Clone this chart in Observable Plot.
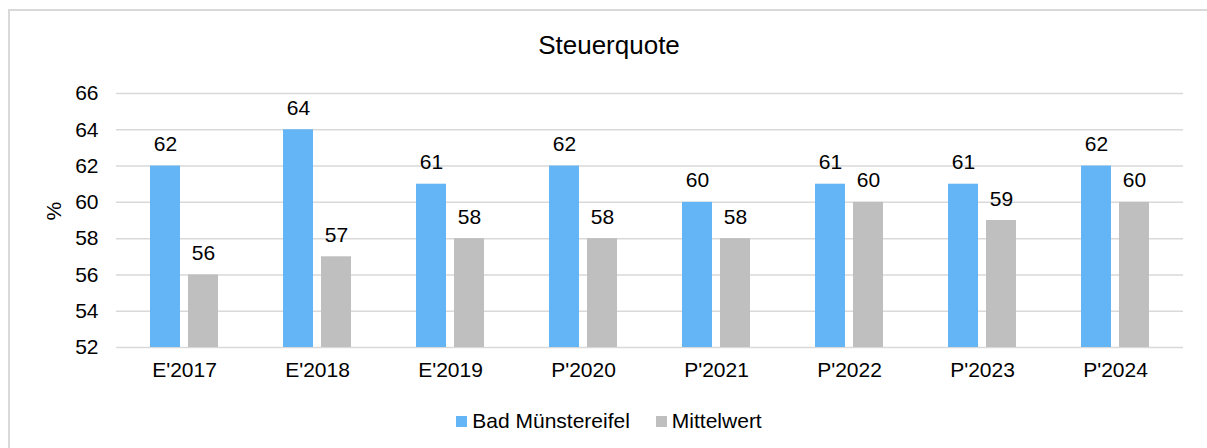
<!DOCTYPE html>
<html><head><meta charset="utf-8">
<script src="https://cdn.jsdelivr.net/npm/d3@7"></script>
<script src="https://cdn.jsdelivr.net/npm/@observablehq/plot@0.6"></script>
<style>
html,body{margin:0;padding:0;background:#fff;overflow:hidden;width:1207px;height:448px;}
body{font-family:"Liberation Sans",Arial,sans-serif;color:#000;position:relative;}
#frame{position:absolute;left:8px;top:9px;width:1220px;height:470px;border:2px solid #d9d9d9;box-sizing:border-box;}
#title{position:absolute;left:8px;width:1202px;top:32px;text-align:center;font-size:26px;line-height:26px;}
#chart{position:absolute;left:0;top:0;}
#legend{position:absolute;left:8px;width:1202px;top:411px;display:flex;justify-content:center;font-size:21px;line-height:20px;}
.item{display:flex;align-items:center;margin:0 13px;}
.sw{width:11px;height:11px;margin-right:5px;}
</style>
</head><body>
<div id="frame"></div>
<div id="title">Steuerquote</div>
<div id="chart"></div>
<div id="legend"></div>
<script>
const categories = ["E'2017","E'2018","E'2019","P'2020","P'2021","P'2022","P'2023","P'2024"];
const badMuenstereifel = [62,64,61,62,60,61,61,62];
const mittelwert = [56,57,58,58,58,60,59,60];
const seriesNames = ["Bad Münstereifel","Mittelwert"];
const seriesColors = ["#64B5F6","#BFBFBF"];
const yTicks = [52,54,56,58,60,62,64,66];
const baseline = 52;

const rowsA = categories.map((c,i)=>({cat:c, value:badMuenstereifel[i]}));
const rowsB = categories.map((c,i)=>({cat:c, value:mittelwert[i]}));

const font = '"Liberation Sans", Arial, sans-serif';
const chart = Plot.plot({
  width:1207, height:400,
  marginTop:93, marginBottom:53, marginLeft:116, marginRight:24,
  style:{fontFamily:font, fontSize:"21px", color:"#000", background:"transparent", overflow:"visible"},
  x:{domain:categories, paddingInner:0.49, paddingOuter:0.245, label:null},
  y:{domain:[baseline,66], label:null},
  marks:[
    Plot.gridY(yTicks, {stroke:"#d9d9d9", strokeOpacity:1, strokeWidth:1.5}),
    Plot.barY(rowsA, {x:"cat", y1:baseline, y2:"value", fill:seriesColors[0], insetRight:38}),
    Plot.barY(rowsB, {x:"cat", y1:baseline, y2:"value", fill:seriesColors[1], insetLeft:38}),
    Plot.text(rowsA, {x:"cat", y:"value", text:d=>String(d.value), dx:-19, dy:-15, lineAnchor:"bottom", fontSize:21, fill:"#000"}),
    Plot.text(rowsB, {x:"cat", y:"value", text:d=>String(d.value), dx:19, dy:-15, lineAnchor:"bottom", fontSize:21, fill:"#000"}),
    Plot.axisX({tickSize:0, tickPadding:15, fontSize:21, label:null}),
    Plot.axisY({ticks:yTicks, tickSize:0, tickPadding:18, fontSize:21, label:null}),
    Plot.text(["%"], {frameAnchor:"left", dx:-62, rotate:-90, text:d=>d, fontSize:21, fill:"#000"})
  ]
});
document.getElementById("chart").appendChild(chart);

const legend = document.getElementById("legend");
seriesNames.forEach((n,i)=>{
  const it = document.createElement("div"); it.className="item";
  const sw = document.createElement("div"); sw.className="sw"; sw.style.background=seriesColors[i];
  const tx = document.createElement("span"); tx.textContent=n;
  it.appendChild(sw); it.appendChild(tx); legend.appendChild(it);
});
</script>
</body></html>
